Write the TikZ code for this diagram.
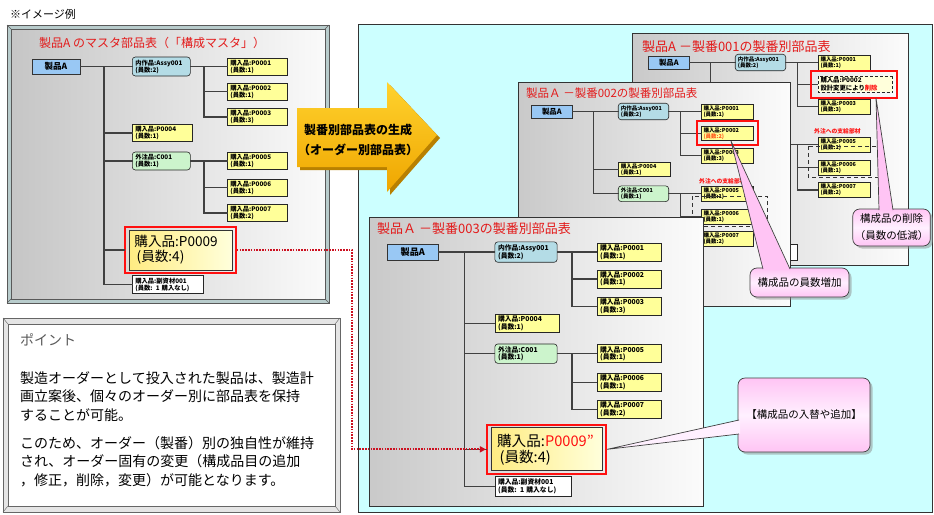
\documentclass[tikz,border=0pt]{standalone}
\usepackage{fontspec}
\setmainfont{Noto Sans CJK JP}
\usetikzlibrary{arrows.meta,shadows}
\definecolor{buyY}{HTML}{FFFF99}
\definecolor{prodB}{HTML}{99C8F4}
\definecolor{assyC}{HTML}{B4DCE6}
\definecolor{outsG}{HTML}{CCF4CC}
\definecolor{cyanBG}{HTML}{CCFFFF}
\definecolor{titleR}{HTML}{E31A1A}
\definecolor{redF}{HTML}{FF1010}
\definecolor{dotR}{HTML}{CC1020}
\definecolor{pinkA}{HTML}{FFC4F4}
\definecolor{pinkB}{HTML}{FFF0FF}
\definecolor{goldA}{HTML}{FFD22E}
\definecolor{goldB}{HTML}{EFA600}
\definecolor{goldD}{HTML}{B88000}
\definecolor{bevelC}{HTML}{B8CCCC}
\definecolor{lineG}{HTML}{404040}
\definecolor{orangeR}{HTML}{FF5A1E}
\tikzset{
 smallfont/.style={font=\fontsize{6.3}{7}\selectfont\bfseries},
 basebox/.style={smallfont, draw=black!85, line width=0.6, align=left, inner xsep=3, inner ysep=1.2, minimum height=17},
 buy/.style={basebox, fill=buyY, text width=54},
 prodA/.style={draw=black!80, line width=0.7, fill=prodB, minimum width=48, minimum height=15, inner sep=0, font=\fontsize{8.5}{9}\selectfont\bfseries},
 assy/.style={basebox, fill=assyC, rounded corners=3, text width=52, minimum height=19},
 outs/.style={basebox, fill=outsG, rounded corners=3, text width=52, minimum height=18},
 subm/.style={basebox, fill=white, text width=65, minimum height=18},
 redfr/.style={draw=redF, line width=1.8},
 bigbuy/.style={draw=black!80, line width=0.8, left color=buyY!85!orange, right color=buyY!35, text width=92, inner xsep=5.5, inner ysep=2, minimum height=40, align=left, font=\fontsize{13.6}{15}\selectfont},
 conn/.style={draw=lineG, line width=1.3, line cap=rect},
 p2style/.style={},
 paneltitle/.style={anchor=west, text=titleR, inner sep=0},
 panelbg/.style={left color=gray!42, right color=gray!3, draw=black!80, line width=0.7},
 callout/.style={draw=black!75, line width=0.7, rounded corners=7, top color=pinkA, bottom color=pinkA, middle color=pinkB, drop shadow={shadow xshift=2.5pt, shadow yshift=-2.5pt, fill=black!45}, align=center, font=\fontsize{10.5}{17}\selectfont, inner sep=2},
 wedge/.style={draw=black!75, line width=0.7},
 dashrect/.style={draw=black!80, line width=0.8, dash pattern=on 4pt off 3pt},
 sublabel/.style={anchor=west, text=redF, inner sep=0, font=\fontsize{5.8}{6}\selectfont\bfseries},
}
\newcommand\bomtree[1]{%
 \node[prodA] (#1A) at (56,66.5) {製品A};
 \node[assy, anchor=west] (#1Assy) at (132,66.5) {内作品:Assy001\\(員数:2)};
 \node[buy, anchor=west] (#1P1) at (227,66.5) {購入品:P0001\\(員数:1)};
 \node[buy, anchor=west, p2style] (#1P2) at (227,91.5) {\ptwotext};
 \node[buy, anchor=west] (#1P3) at (227,117) {購入品:P0003\\(員数:3)};
 \node[buy, anchor=west] (#1P4) at (132,133) {購入品:P0004\\(員数:1)};
 \node[outs, anchor=west] (#1C1) at (132,161) {外注品:C001\\(員数:1)};
 \node[buy, anchor=west] (#1P5) at (227,161) {購入品:P0005\\(員数:1)};
 \node[buy, anchor=west] (#1P6) at (227,187.5) {購入品:P0006\\(員数:1)};
 \node[buy, anchor=west] (#1P7) at (227,213) {購入品:P0007\\(員数:2)};
 \coordinate (#1T) at (104,66.5);
 \coordinate (#1U) at (204,66.5);
 \coordinate (#1V) at (204,161);
 \ifnum\pfull=1
  \ifnum\pbig=1
   \node[redfr, minimum width=111, minimum height=46, anchor=west, inner sep=0] (#1P9f) at (124,250) {};
   \node[bigbuy] (#1P9) at (#1P9f.center) {\pninetext};
  \else
   \node[buy, anchor=west, text width=52] (#1P9f) at (132,250) {購入品:P0009\\(員数:4)};
  \fi
  \node[subm, anchor=west] (#1S1) at (132,284.5) {購入品:副資材001\\(員数: 1 購入なし)};
  \draw[conn] (#1T) |- (#1P9f.west);
  \draw[conn] (#1T) |- (#1S1.west);
 \fi
 \draw[conn] (#1A.east) -- (#1T);
 \draw[conn] (#1T) -- (#1Assy.west);
 \draw[conn] (#1T) |- (#1P4.west);
 \draw[conn] (#1T) |- (#1C1.west);
 \draw[conn] (#1Assy.east) -- (#1U);
 \draw[conn] (#1U) -- (#1P1.west);
 \draw[conn] (#1U) |- (#1P2.west);
 \draw[conn] (#1U) |- (#1P3.west);
 \draw[conn] (#1C1.east) -- (#1V);
 \draw[conn] (#1V) -- (#1P5.west);
 \draw[conn] (#1V) |- (#1P6.west);
 \draw[conn] (#1V) |- (#1P7.west);
}
\begin{document}
\begin{tikzpicture}[x=1pt,y=-1pt]
\useasboundingbox (0,0) rectangle (934,514);
\fill[white] (0,0) rectangle (934,514);
\node[anchor=west, inner sep=0, font=\fontsize{11}{12}\selectfont] (hdr) at (10,14) {※イメージ例};

% ---------- master panel
\filldraw[fill=bevelC, draw=black!65] (7,25) rectangle (329,303);
\shadedraw[left color=gray!45, right color=gray!4, draw=black!65] (11,29) rectangle (325,299);
\draw[black!65] (7,25) -- (11,29) (329,25) -- (325,29) (7,303) -- (11,299) (329,303) -- (325,299);
\node[paneltitle, font=\fontsize{12}{13}\selectfont] (mtitle) at (39,43) {製品A のマスタ部品表（「構成マスタ」）};
\def\ptwotext{購入品:P0002\\(員数:1)}
\def\pbig{1}
\def\pfull{1}
\def\pninetext{購入品:P0009\\\,(員数:4)}
\bomtree{m}

% ---------- cyan area
\filldraw[fill=cyanBG, draw=black!80, line width=0.6] (358,24) rectangle (932,512);

% ---------- big arrow
\fill[goldD] (300,111) -- (390,111) -- (390,85) -- (440,138) -- (390,195) -- (390,170) -- (300,170) -- cycle;
\shade[top color=goldA, bottom color=goldB] (297,108) -- (387,108) -- (387,82) -- (437,135) -- (387,192) -- (387,167) -- (297,167) -- cycle;
\node[align=center, font=\fontsize{12}{20}\selectfont\bfseries] (arrowtxt) at (358,140) {製番別部品表の生成\\（オーダー別部品表）};

% ---------- panel 001
\shadedraw[panelbg] (632,33) rectangle (908,265);
\node[paneltitle, font=\fontsize{13}{14}\selectfont] (t1) at (642,47) {製品A －製番001の製番別部品表};
\begin{scope}[shift={(648,56)}, scale=0.87, shift={(-32,-59)}, transform shape]
 \tikzset{p2style/.style={text width=80, dash pattern=on 3pt off 2pt, fill=buyY!35, font=\fontsize{7.3}{9.5}\selectfont\bfseries}}
 \def\ptwotext{購入品:P0002\\設計変更により\textcolor{redF}{削除}}
 \def\pbig{0}
 \def\pfull{1}
 \bomtree{a}
\end{scope}
\draw[redfr] (811,71) rectangle (897,98);
\draw[dashrect] (808,146) rectangle (881,177);
\node[sublabel] (lab1) at (814,131) {外注への支給部材};

% ---------- panel 002
\shadedraw[panelbg] (518,82) rectangle (790,306);
\node[paneltitle, font=\fontsize{11.5}{12}\selectfont] (t2) at (526,93) {製品Ａ －製番002の製番別部品表};
\begin{scope}[shift={(531,105)}, scale=0.87, shift={(-32,-59)}, transform shape]
 \tikzset{p2style/.style={}}
 \def\ptwotext{購入品:P0002\\\textcolor{orangeR}{(員数:2)}}
 \def\pbig{0}
 \def\pfull{0}
 \bomtree{b}
\end{scope}
\draw[redfr] (697,121) rectangle (758,145);
\draw[dashrect] (692,196) rectangle (767,226);
\node[sublabel] (lab2) at (699,181) {外注への支給部材};

% ---------- panel 003
\shadedraw[panelbg] (369,217) rectangle (703,506);
\node[paneltitle, font=\fontsize{13}{14}\selectfont] (t3) at (377,229) {製品Ａ －製番003の製番別部品表};
\begin{scope}[shift={(387,244)}, scale=1.075, shift={(-32,-59)}, transform shape]
 \tikzset{p2style/.style={}}
 \def\ptwotext{購入品:P0002\\(員数:1)}
 \def\pbig{1}
 \def\pfull{1}
 \def\pninetext{購入品:\textcolor{redF}{P0009"}\\\,(員数:4)}
 \bomtree{c}
\end{scope}

% ---------- dotted connector
\coordinate (dotv) at (352,350);
\draw[dotR, line width=1.7, dash pattern=on 1.6pt off 1.2pt, -{Triangle[length=6pt,width=6pt]}] (mP9f.east) -| (dotv) |- (cP9f.west);

% ---------- callouts
\node[callout, minimum width=73, minimum height=37] (calA) at (891.5,227.5) {構成品の削除\\（員数の低減）};
\coordinate (tipA) at (876,98);
\fill[pinkA] (tipA) -- (879,211) -- (893,211) -- cycle;
\draw[wedge] (879,210) -- (tipA) -- (893,210);

\node[callout, minimum width=99, minimum height=29] (calB) at (799.5,282.5) {構成品の員数増加};
\coordinate (tipB) at (731,141);
\fill[pinkA] (tipB) -- (763,270) -- (790,270) -- cycle;
\draw[wedge] (763,269) -- (tipB) -- (790,269);

\node[callout, minimum width=132, minimum height=74] (calC) at (804,415) {【構成品の入替や追加】};
\coordinate (tipC) at (cP9f.east);
\fill[pinkB] (tipC) -- (740,420) -- (740,434) -- cycle;
\draw[wedge] (739,420) -- (tipC) -- (739,434);

% ---------- point box
\filldraw[fill=gray!20, draw=black!60] (3,318) rectangle (340,512);
\filldraw[fill=white, draw=black!60] (8,324) rectangle (335,506);
\draw[black!60] (3,318) -- (8,324) (340,318) -- (335,324) (3,512) -- (8,506) (340,512) -- (335,506);
\node[anchor=north west, inner sep=0, text=black!65, font=\fontsize{14}{16}\selectfont] (pt) at (20,333) {ポイント};
\node[anchor=north west, inner sep=0, align=left, font=\fontsize{14}{18.5}\selectfont] (pt1) at (20,371) {製造オーダーとして投入された製品は、製造計\\画立案後、個々のオーダー別に部品表を保持\\することが可能。};
\node[anchor=north west, inner sep=0, align=left, font=\fontsize{14}{18.5}\selectfont] (pt2) at (20,436) {このため、オーダー（製番）別の独自性が維持\\され、オーダー固有の変更（構成品目の追加\\，修正，削除，変更）が可能となります。};
\end{tikzpicture}
\end{document}
